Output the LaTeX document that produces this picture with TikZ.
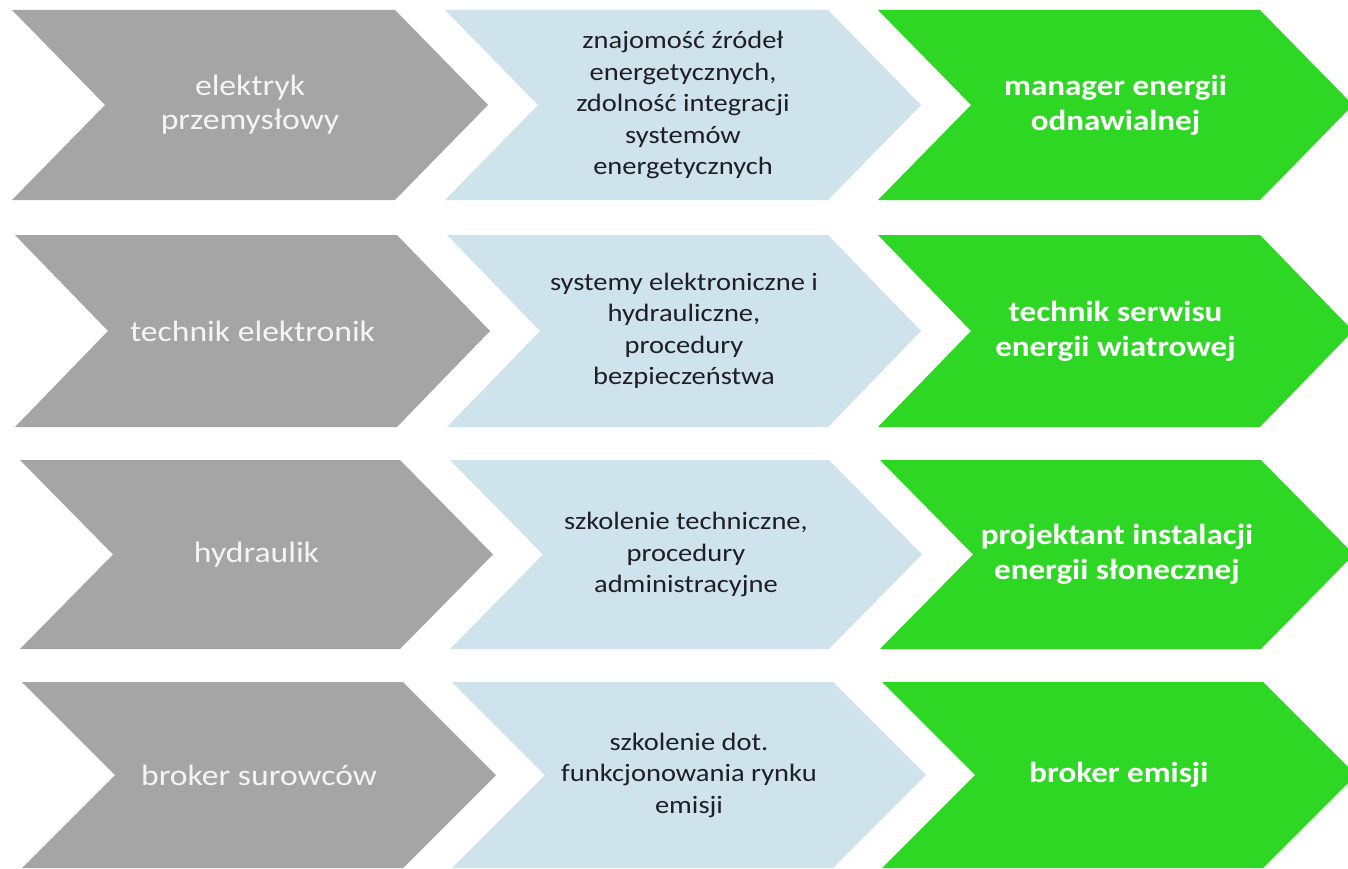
\documentclass[tikz,border=0pt]{standalone}
\usepackage{fontspec}
\setmainfont{Carlito}
\newfontfamily\widefont[FakeStretch=1.14]{Carlito}
\definecolor{grayfill}{RGB}{165,165,165}
\definecolor{bluefill}{RGB}{206,227,236}
\definecolor{greenfill}{RGB}{46,215,36}
\definecolor{darktext}{RGB}{30,30,38}
\definecolor{graytxt}{RGB}{245,245,245}
\tikzset{
  chevgray/.style={fill=grayfill},
  chevblue/.style={fill=bluefill},
  chevgreen/.style={fill=greenfill},
  graylabel/.style={text=graytxt, align=center, font=\widefont\fontsize{29.5}{34}\selectfont},
  bluelabel/.style={text=darktext, align=center, font=\widefont\fontsize{25}{31.5}\selectfont},
  greenlabel/.style={text=white, align=center, font=\widefont\fontsize{29}{35}\selectfont\bfseries},
}
% #1 left, #2 top, #3 bottom, #4 right corner, #5 style, #6 node name, #7 label style, #8 text
\newcommand\mychev[8]{%
  \fill[#5] (#1,#2) -- (#4,#2) -- ({#4+93},{(#2+#3)/2}) -- (#4,#3) -- (#1,#3)
    -- ({#1+93},{(#2+#3)/2}) -- cycle;
  \node[#7] (#6) at ({(#1+93+#4)/2},{(#2+#3)/2}) {#8};
}
\begin{document}
\begin{tikzpicture}[x=1pt,y=-1pt]
\useasboundingbox (0,0) rectangle (1348,869);
\clip (0,0) rectangle (1348,869);
\fill[white] (0,0) rectangle (1348,869);
% row 1
\mychev{12}{10}{200}{395}{chevgray}{g1}{graylabel}{elektryk\\przemysłowy}
\mychev{445}{10}{200}{828}{chevblue}{b1}{bluelabel}{znajomość źródeł\\energetycznych,\\zdolność integracji\\systemów\\energetycznych}
\mychev{878}{10}{200}{1260}{chevgreen}{r1}{greenlabel}{manager energii\\odnawialnej}
% row 2
\mychev{15}{235}{427}{397}{chevgray}{g2}{graylabel}{technik elektronik}
\mychev{447}{235}{427}{828}{chevblue}{b2}{bluelabel}{systemy elektroniczne i\\hydrauliczne,\\procedury\\bezpieczeństwa}
\mychev{878}{235}{427}{1260}{chevgreen}{r2}{greenlabel}{technik serwisu\\energii wiatrowej}
% row 3
\mychev{20}{460}{649}{400}{chevgray}{g3}{graylabel}{hydraulik}
\mychev{450}{460}{649}{829}{chevblue}{b3}{bluelabel}{szkolenie techniczne,\\procedury\\administracyjne}
\mychev{880}{460}{649}{1261}{chevgreen}{r3}{greenlabel}{projektant instalacji\\energii słonecznej}
% row 4
\mychev{22}{682}{868}{403}{chevgray}{g4}{graylabel}{broker surowców}
\mychev{452}{682}{868}{833}{chevblue}{b4}{bluelabel}{szkolenie dot.\\funkcjonowania rynku\\emisji}
\mychev{882}{682}{868}{1263}{chevgreen}{r4}{greenlabel}{broker emisji}
\end{tikzpicture}
\end{document}
